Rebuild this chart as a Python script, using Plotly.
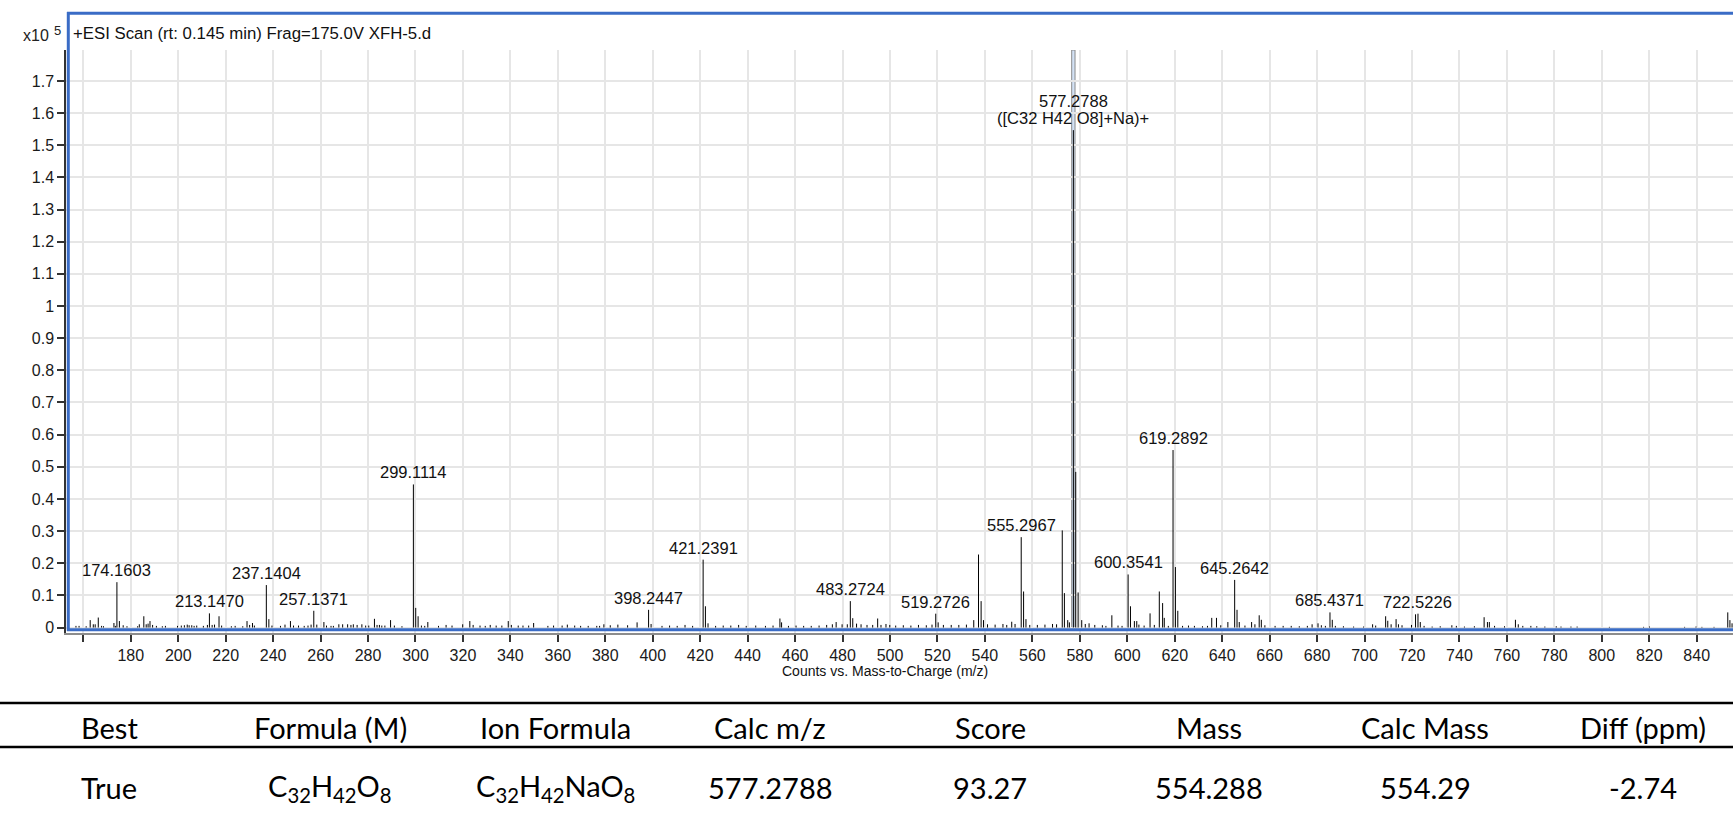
import plotly.graph_objects as go

# ---------------------------------------------------------------
# Spectrum data (abundance in units of 10^5 counts)
# ---------------------------------------------------------------
# Annotated peaks
label_mz = [174.1603, 213.1470, 237.1404, 257.1371, 299.1114, 398.2447,
            421.2391, 483.2724, 519.2726, 555.2967, 577.2788, 600.3541,
            619.2892, 645.2642, 685.4371, 722.5226]
label_int = [0.141, 0.044, 0.132, 0.052, 0.445, 0.055,
             0.211, 0.082, 0.043, 0.281, 1.547, 0.165,
             0.552, 0.148, 0.047, 0.043]

base_peak_mz = 577.2788
base_peak_ion = "([C32 H42 O8]+Na)+"

# Unlabelled peaks (isotopes, fragments and baseline noise)
minor_mz = [
    156.9, 158.2, 161.2, 162.9, 164.2, 165.0, 166.3, 167.7, 168.5, 172.9,
    173.5, 175.2, 176.8, 178.4, 182.9, 183.6, 185.5, 186.5, 187.3, 188.1,
    189.2, 190.8, 193.3, 194.6, 199.7, 201.3, 202.6, 203.8, 204.6, 205.7,
    206.7, 207.8, 210.6, 212.3, 214.3, 215.3, 217.2, 218.3, 222.4, 224.0,
    227.2, 229.0, 230.1, 231.3, 232.1, 238.2, 239.5, 243.1, 245.0, 247.3,
    248.6, 250.7, 253.1, 254.7, 256.0, 258.4, 261.4, 262.5, 264.4, 265.4,
    267.7, 269.3, 271.4, 272.8, 273.8, 275.4, 277.4, 279.0, 280.3, 282.7,
    283.8, 284.8, 285.8, 287.1, 289.5, 291.1, 294.3, 300.1, 301.1, 302.5,
    303.9, 305.2, 309.7, 312.9, 315.4, 319.9, 322.9, 324.3, 327.2, 329.4,
    331.5, 334.0, 336.4, 339.1, 340.4, 343.3, 345.3, 347.7, 349.8, 355.8,
    358.2, 361.8, 364.0, 367.1, 369.6, 372.8, 376.4, 377.6, 379.4,
    382.1, 385.3, 389.4, 393.4, 399.3, 403.9, 407.1, 410.3, 413.6, 416.8,
    422.2, 423.3, 426.5, 429.7, 432.9, 436.2, 439.4, 443.4, 447.5, 450.7,
    453.6, 454.3, 457.2, 460.4, 463.6, 466.8, 470.1, 473.3, 475.7, 477.3,
    479.8, 482.0, 484.3, 485.9, 487.8, 490.3, 492.7, 494.8, 496.2, 498.3,
    499.9, 502.4, 505.6, 508.8, 512.0, 515.3, 517.7, 520.3, 522.5, 525.8,
    529.0, 532.2, 535.3, 537.3, 538.4, 539.4, 541.1, 544.3, 547.6, 549.2,
    551.3, 552.7, 556.3, 557.3, 558.9, 562.1, 565.3, 568.5, 570.2, 572.6,
    573.5, 574.9, 575.6, 578.28, 579.28, 580.8, 582.3, 583.9, 586.3, 589.5,
    591.0, 593.5, 596.1, 597.8, 601.35, 603.0, 604.0, 604.9, 607.1,
    609.6, 611.4, 613.5, 614.9, 615.6, 617.3, 620.29, 621.3, 623.3, 625.8,
    628.3, 631.7, 633.8, 635.6, 637.6, 639.4, 642.4, 646.26, 647.2, 649.6,
    652.4, 653.8, 655.6, 656.5, 658.0, 662.3, 665.7, 669.1, 672.5, 675.9,
    677.9, 680.4, 681.8, 683.5, 686.4, 687.7, 691.1, 695.4, 699.6, 703.4,
    704.7, 708.9, 709.8, 711.2, 713.3, 714.3, 715.8, 719.8, 721.5, 723.5,
    725.1, 728.5, 731.9, 736.8, 738.7, 742.1, 746.3, 750.4, 751.8, 752.6,
    754.8, 759.0, 763.6, 764.8, 766.7, 770.1, 772.6, 776.0, 780.8, 782.8,
    787.0, 789.6, 803.2, 817.6, 820.1, 834.9, 839.7, 842.2, 847.3, 853.1,
    854.0, 854.9,
]
minor_int = [
    0.005, 0.005, 0.004, 0.023, 0.010, 0.010, 0.031, 0.005, 0.004, 0.014,
    0.005, 0.020, 0.007, 0.004, 0.004, 0.010, 0.035, 0.010, 0.012, 0.020,
    0.008, 0.005, 0.004, 0.005, 0.005, 0.006, 0.007, 0.009, 0.007, 0.007,
    0.005, 0.006, 0.005, 0.008, 0.008, 0.009, 0.035, 0.006, 0.004, 0.005,
    0.004, 0.020, 0.008, 0.014, 0.006, 0.026, 0.006, 0.005, 0.009, 0.020,
    0.006, 0.006, 0.005, 0.006, 0.009, 0.009, 0.017, 0.006, 0.005, 0.005,
    0.010, 0.010, 0.010, 0.008, 0.010, 0.008, 0.010, 0.006, 0.006, 0.027,
    0.008, 0.008, 0.006, 0.006, 0.023, 0.006, 0.004, 0.061, 0.035, 0.006,
    0.005, 0.017, 0.005, 0.008, 0.006, 0.010, 0.020, 0.008, 0.006, 0.005,
    0.008, 0.006, 0.006, 0.020, 0.008, 0.006, 0.006, 0.006, 0.014, 0.005,
    0.006, 0.006, 0.009, 0.006, 0.005, 0.005, 0.005, 0.005, 0.010,
    0.007, 0.009, 0.007, 0.016, 0.011, 0.005, 0.006, 0.005, 0.008, 0.005,
    0.066, 0.013, 0.005, 0.006, 0.006, 0.008, 0.005, 0.006, 0.005, 0.006,
    0.028, 0.016, 0.005, 0.006, 0.005, 0.005, 0.006, 0.008, 0.010, 0.017,
    0.010, 0.010, 0.029, 0.012, 0.010, 0.008, 0.008, 0.028, 0.008, 0.011,
    0.008, 0.006, 0.007, 0.006, 0.008, 0.007, 0.009, 0.016, 0.008, 0.008,
    0.008, 0.009, 0.023, 0.227, 0.082, 0.023, 0.010, 0.009, 0.011, 0.008,
    0.018, 0.011, 0.112, 0.026, 0.008, 0.008, 0.009, 0.011, 0.010, 0.302,
    0.107, 0.023, 0.016, 0.484, 0.109, 0.023, 0.011, 0.013, 0.008, 0.007,
    0.005, 0.038, 0.006, 0.005, 0.066, 0.020, 0.020, 0.009, 0.006,
    0.044, 0.008, 0.112, 0.076, 0.030, 0.005, 0.188, 0.052, 0.005, 0.006,
    0.005, 0.004, 0.005, 0.030, 0.030, 0.007, 0.017, 0.055, 0.017, 0.006,
    0.017, 0.010, 0.038, 0.024, 0.007, 0.005, 0.005, 0.005, 0.004, 0.005,
    0.010, 0.013, 0.007, 0.005, 0.024, 0.005, 0.004, 0.003, 0.003, 0.010,
    0.006, 0.035, 0.021, 0.010, 0.026, 0.010, 0.007, 0.008, 0.041, 0.017,
    0.005, 0.003, 0.004, 0.007, 0.005, 0.003, 0.004, 0.032, 0.017, 0.017,
    0.005, 0.004, 0.024, 0.010, 0.005, 0.005, 0.004, 0.003, 0.004, 0.003,
    0.003, 0.003, 0.002, 0.002, 0.003, 0.002, 0.003, 0.002, 0.002, 0.047,
    0.023, 0.013,
]

# Axis ticks (the unlabelled 160 tick is drawn as a minor tick)
x_ticks = [180, 200, 220, 240, 260, 280, 300, 320, 340, 360, 380, 400,
           420, 440, 460, 480, 500, 520, 540, 560, 580, 600, 620, 640, 660,
           680, 700, 720, 740, 760, 780, 800, 820, 840]
x_tick_text = ["180", "200", "220", "240", "260", "280", "300", "320",
               "340", "360", "380", "400", "420", "440", "460", "480", "500",
               "520", "540", "560", "580", "600", "620", "640", "660", "680",
               "700", "720", "740", "760", "780", "800", "820", "840"]
y_ticks = [0, 0.1, 0.2, 0.3, 0.4, 0.5, 0.6, 0.7, 0.8, 0.9, 1.0,
           1.1, 1.2, 1.3, 1.4, 1.5, 1.6, 1.7]
y_tick_text = ["0", "0.1", "0.2", "0.3", "0.4", "0.5", "0.6", "0.7", "0.8",
               "0.9", "1", "1.1", "1.2", "1.3", "1.4", "1.5", "1.6", "1.7"]

# Formula match result
table_header = ["Best", "Formula (M)", "Ion Formula", "Calc m/z", "Score",
                "Mass", "Calc Mass", "Diff (ppm)"]
table_row = ["True", "C<sub>32</sub>H<sub>42</sub>O<sub>8</sub>",
             "C<sub>32</sub>H<sub>42</sub>NaO<sub>8</sub>", "577.2788",
             "93.27", "554.288", "554.29", "-2.74"]

scan_title = "+ESI Scan (rt: 0.145 min) Frag=175.0V XFH-5.d"
x_title = "Counts vs. Mass-to-Charge (m/z)"

# ---------------------------------------------------------------
# Page geometry (pixels)
# ---------------------------------------------------------------
W, H = 1733, 821
PL, PR, PT, PB = 66, 1733, 50, 633          # plot area edges
X_RANGE = [152.7, 855.3]
Y_RANGE = [-0.0171, 1.7963]
BLUE = "#3a6cc6"
CHART_FONT = "Liberation Sans, Arial, sans-serif"
TABLE_FONT = "Lato, Carlito, Calibri, sans-serif"


def px(x):
    return (x - PL) / (PR - PL)


def py(y):
    return (PB - y) / (PB - PT)


# Stick spectrum: one vertical segment per peak
all_mz = label_mz + minor_mz
all_int = label_int + minor_int
seg_x, seg_y = [], []
for m, h in zip(all_mz, all_int):
    seg_x += [m, m, None]
    seg_y += [0, h, None]

fig = go.Figure()
fig.add_trace(go.Scatter(x=seg_x, y=seg_y, mode="lines",
                         line=dict(color="#000000", width=1),
                         hoverinfo="skip", showlegend=False))

annotations = []
label_font = dict(family=CHART_FONT, size=16.5, color="#111111")
for m, h in zip(label_mz, label_int):
    if m == base_peak_mz:
        annotations.append(dict(x=m, y=h, xref="x", yref="y",
                                text=base_peak_ion, showarrow=False,
                                xanchor="center", yanchor="bottom", yshift=1,
                                font=label_font))
        annotations.append(dict(x=m, y=h, xref="x", yref="y",
                                text=f"{m:.4f}", showarrow=False,
                                xanchor="center", yanchor="bottom", yshift=18.5,
                                font=label_font))
    else:
        annotations.append(dict(x=m, y=h, xref="x", yref="y",
                                text=f"{m:.4f}", showarrow=False,
                                xanchor="center", yanchor="bottom", yshift=1,
                                font=label_font))

# Scan header and multiplier
annotations.append(dict(x=px(71), y=py(33), xref="paper", yref="paper",
                        text=scan_title, showarrow=False, xanchor="left",
                        yanchor="middle", font=dict(family=CHART_FONT, size=16.8,
                                                    color="#111111")))
annotations.append(dict(x=px(51), y=py(35), xref="paper", yref="paper",
                        text="x10", showarrow=False, xanchor="right",
                        yanchor="middle", font=dict(family=CHART_FONT, size=16,
                                                    color="#222222")))
annotations.append(dict(x=px(52), y=py(30), xref="paper", yref="paper",
                        text="5", showarrow=False, xanchor="left",
                        yanchor="middle", font=dict(family=CHART_FONT, size=13,
                                                    color="#222222")))
# Axis title
annotations.append(dict(x=px(885), y=py(671), xref="paper", yref="paper",
                        text=x_title, showarrow=False, xanchor="center",
                        yanchor="middle", font=dict(family=CHART_FONT, size=14,
                                                    color="#111111")))

# Result table
col_centers = [109, 330, 555, 770, 990, 1209, 1425, 1643]
for cx, head, val in zip(col_centers, table_header, table_row):
    annotations.append(dict(x=px(cx), y=py(727), xref="paper", yref="paper",
                            text=head, showarrow=False, xanchor="center",
                            yanchor="middle",
                            font=dict(family=TABLE_FONT, size=29, color="#000")))
    annotations.append(dict(x=px(cx), y=py(787), xref="paper", yref="paper",
                            text=val, showarrow=False, xanchor="center",
                            yanchor="middle",
                            font=dict(family=TABLE_FONT, size=29, color="#000")))

shapes = [
    # selected isolation window around the base peak
    dict(type="rect", xref="x", yref="y", x0=base_peak_mz - 0.7,
         x1=base_peak_mz + 0.7, y0=0, y1=Y_RANGE[1],
         fillcolor="#d3e2f5", line=dict(color="#8a8a8a", width=1),
         layer="below"),
    # blue frame
    dict(type="line", xref="paper", yref="paper", x0=px(68.3), x1=px(68.3),
         y0=py(12), y1=py(631), line=dict(color=BLUE, width=3)),
    dict(type="line", xref="paper", yref="paper", x0=px(67), x1=px(1733),
         y0=py(13.3), y1=py(13.3), line=dict(color=BLUE, width=3)),
    dict(type="line", xref="paper", yref="paper", x0=px(67), x1=px(1733),
         y0=py(629.8), y1=py(629.8), line=dict(color=BLUE, width=3)),
    # table rules
    dict(type="line", xref="paper", yref="paper", x0=px(0), x1=px(1733),
         y0=py(703), y1=py(703), line=dict(color="#000", width=2.5)),
    dict(type="line", xref="paper", yref="paper", x0=px(0), x1=px(1733),
         y0=py(747), y1=py(747), line=dict(color="#000", width=2.5)),
]

fig.update_layout(
    width=W, height=H,
    margin=dict(l=PL, r=W - PR, t=PT, b=H - PB, pad=0),
    paper_bgcolor="white", plot_bgcolor="white",
    showlegend=False,
    annotations=annotations,
    shapes=shapes,
    xaxis=dict(range=X_RANGE, tickmode="array", tickvals=x_ticks,
               ticktext=x_tick_text, ticks="outside", ticklen=7, tickwidth=1.5,
               tickcolor="#333333", showline=True, linecolor="#8c8c8c",
               linewidth=2, showgrid=True, gridcolor="#e6e6e6", gridwidth=2,
               zeroline=False,
               minor=dict(tick0=160, dtick=20, ticks="outside", ticklen=7,
                          tickwidth=1.5, tickcolor="#333333", showgrid=True,
                          gridcolor="#e6e6e6", gridwidth=2),
               tickfont=dict(family=CHART_FONT, size=16, color="#1a1a1a")),
    yaxis=dict(range=Y_RANGE, tickmode="array", tickvals=y_ticks,
               ticktext=y_tick_text, ticks="outside", ticklen=7, tickwidth=1.5,
               tickcolor="#333333", showline=True, linecolor="#333333",
               linewidth=1.5, showgrid=True, gridcolor="#e6e6e6", gridwidth=2,
               zeroline=False,
               tickfont=dict(family=CHART_FONT, size=16, color="#1a1a1a")),
)

fig.write_html("out.html")
